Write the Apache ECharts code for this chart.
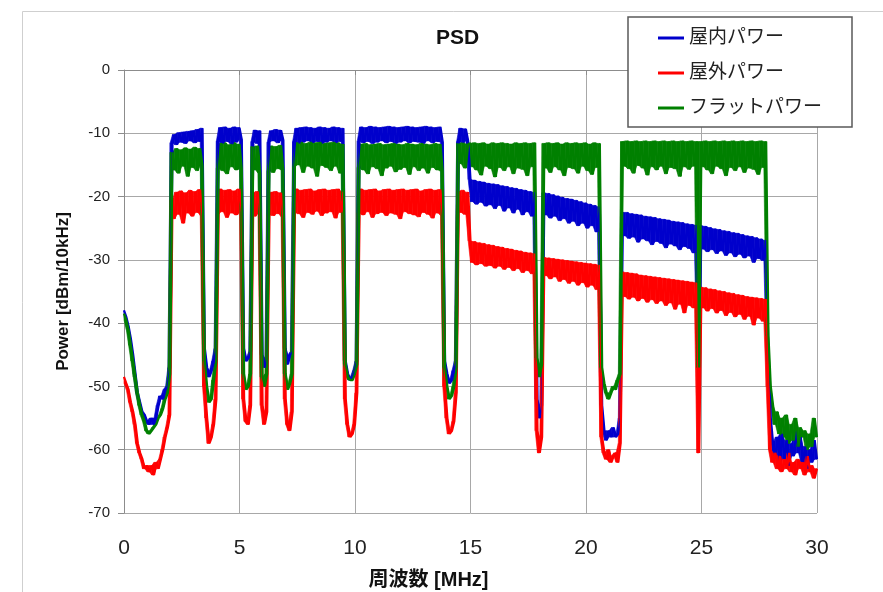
<!DOCTYPE html>
<html><head><meta charset="utf-8">
<script src="https://cdn.jsdelivr.net/npm/echarts@6/dist/echarts.min.js"></script>
<style>html,body{margin:0;padding:0;background:#fff}#c{width:883px;height:592px}</style>
</head><body><div id="c"></div>
<script>
const titleText = 'PSD';
const xAxisName = '周波数 [MHz]';
const yAxisName = 'Power [dBm/10kHz]';
const seriesNames = ['屋内パワー', '屋外パワー', 'フラットパワー'];
const xTicks = [0, 5, 10, 15, 20, 25, 30];
const yTicks = [-70, -60, -50, -40, -30, -20, -10, 0];
// sample frequencies 0.0 .. 30.0 MHz, 0.1 MHz spacing
const freqMHz = Array.from({length: 301}, (_, i) => i / 10);

const indoor = [
 -38,-39,-40.5,-42.5,-45,-48,-51,-52.5,-54,-54.5,-55.5,-56,-55,-56,-55,-53,-51.5,-52,-50.5,-50,-47,
 -11.5,-10.2,-11.8,-9.9,-11.4,-9.8,-11.6,-9.7,-11.2,-9.6,-11.5,-9.4,-11.3,-9.2,
 -44,-47,-48.5,-47.5,-46,-44,
 -11.2,-9.1,-11.6,-9.0,-11.3,-9.2,-11.7,-9.0,-11.4,-9.1,-11.0,
 -44,-46,-45.5,-44.5,
 -11.3,-9.5,-11.6,-9.6,
 -45,-47,-45.5,
 -11.4,-9.6,-11.2,-9.4,-11.5,-9.5,-11.1,
 -44,-46.5,-45,-44.5,
 -11.3,-9.2,-11.6,-9.1,-11.4,-9.0,-11.2,-9.1,-11.5,-9.2,-11.3,-9.0,-11.6,-9.1,-11.4,-9.2,-11.2,-9.0,-11.5,-9.1,-11.3,-9.2,
 -46,-48,-49,-48.5,-47.5,-46,
 -11.2,-9.0,-11.5,-9.1,-11.3,-8.9,-11.6,-9.0,-11.4,-9.1,
 -11.2,-9.0,-11.5,-8.9,-11.3,-9.0,-11.6,-9.1,-11.4,-9.0,
 -11.2,-8.9,-11.5,-9.0,-11.3,-9.1,-11.4,-9.0,-11.6,-8.9,
 -11.2,-9.0,-11.5,-9.1,-11.3,-9.0,-11.4,
 -46,-48,-49.5,-49,-47.5,-46,
 -11.3,-9.2,-11.5,-9.3,-11.2,
 -17.3,-20.8,-17.4,-21.2,-17.6,-20.9,-17.7,-21.5,-17.9,-21.3,
 -18.0,-21.9,-18.1,-21.4,-18.3,-22.3,-18.4,-21.8,-18.6,-22.6,
 -18.7,-22.0,-18.9,-22.9,-19.0,-22.4,-19.2,-23.1,-19.3,
 -52,-55,-53,
 -19.4,-22.9,-19.5,-23.4,-19.7,-23.1,-19.9,-23.8,-20.1,-23.5,
 -20.3,-24.2,-20.4,-23.9,-20.6,-24.6,-20.8,-24.2,-21.0,-25.0,
 -21.2,-24.6,-21.4,-25.6,-21.6,
 -53,-57,-58.5,-57,-58,-56.5,-58,-57.5,-55,
 -22.5,-26.2,-22.5,-26.6,-22.7,-26.4,-22.8,-27.2,-22.9,-26.7,
 -23.1,-27.0,-23.2,-27.6,-23.3,-27.1,-23.5,-27.4,-23.6,-28.1,
 -23.7,-27.5,-23.9,-27.8,-24.0,-28.4,-24.1,-27.9,-24.3,-28.2,
 -24.4,-28.9,-24.5,
 -46,
 -24.6,-28.3,-24.7,-28.7,-24.9,-28.4,-25.1,-29.0,-25.2,-28.6,
 -25.4,-29.3,-25.5,-28.9,-25.7,-29.5,-25.8,-29.1,-26.0,-29.7,
 -26.2,-29.4,-26.3,-30.4,-26.5,-29.8,-26.7,-30.1,-26.9,
 -45,-55,-59,-61,-58,-62,-57.5,-61.5,-58.5,-62.5,-59,-61,-57,-60.5,-58,-62,-59.5,-63,-60,-62,-58.5,-61.5
];

const outdoor = [
 -48.5,-49.5,-50.5,-52.5,-54,-56,-59,-60.5,-61.5,-63,-62.5,-63.5,-62.5,-64,-62,-63,-61.5,-60,-58,-56.5,-54.5,
 -20.5,-23.5,-19.3,-22.8,-19.1,-24.2,-19.4,-22.6,-19.0,-23.1,-19.2,-22.5,-18.9,-23.0,
 -50,-55,-59,-58,-56,-52,
 -22.8,-18.8,-22.4,-19.0,-23.3,-18.9,-22.6,-19.1,-22.9,-18.8,-22.5,
 -52,-55.5,-56,-53,
 -19.4,-23.1,-19.2,-22.7,
 -53,-56,-54,
 -22.9,-19.3,-23.0,-19.2,-22.7,-19.4,-23.2,
 -52,-56,-57,-54,
 -22.4,-18.8,-22.7,-19.0,-23.3,-18.9,-22.5,-18.8,-22.8,-19.1,-22.3,-18.9,-23.0,-18.8,-22.6,-19.0,-22.4,-18.9,-23.4,-18.8,-22.5,-19.2,
 -52,-56,-58,-57.5,-56,-51,
 -22.6,-18.8,-22.9,-19.0,-22.4,-18.9,-23.3,-18.8,-22.7,-19.1,
 -22.5,-18.9,-23.0,-18.8,-22.6,-19.0,-22.8,-18.9,-23.5,-18.8,
 -22.4,-19.0,-22.7,-18.9,-22.9,-18.8,-23.2,-19.1,-22.5,-18.9,
 -22.8,-18.8,-23.4,-19.0,-22.6,-18.9,-23.0,
 -50,-55,-57.5,-57,-55.5,-51,
 -19.2,-22.5,-19.0,-22.8,-19.3,
 -27.0,-30.4,-27.1,-30.8,-27.3,-30.6,-27.4,-31.0,-27.6,-30.9,
 -27.7,-31.3,-27.9,-31.0,-28.0,-31.5,-28.2,-31.2,-28.3,-31.7,
 -28.5,-31.4,-28.6,-32.0,-28.8,-31.7,-28.9,-32.2,-29.0,
 -57,-60.5,-58,
 -29.6,-32.5,-29.7,-33.0,-29.8,-32.7,-29.9,-33.4,-30.0,-33.1,
 -30.1,-33.7,-30.2,-33.4,-30.3,-34.0,-30.4,-33.6,-30.5,-34.3,
 -30.6,-34.0,-30.7,-34.7,-30.8,
 -58,-60.5,-61.5,-60,-62,-61,-60.5,-62,-59,
 -31.9,-35.8,-32.0,-36.2,-32.1,-35.9,-32.2,-36.5,-32.4,-36.1,
 -32.5,-36.7,-32.6,-36.3,-32.7,-36.9,-32.8,-36.5,-32.9,-37.2,
 -33.0,-36.8,-33.1,-37.8,-33.2,-37.0,-33.3,-38.4,-33.4,-37.2,
 -33.5,-37.6,-33.6,
 -60.5,
 -34.3,-37.6,-34.4,-38.1,-34.6,-37.7,-34.7,-38.4,-34.9,-38.0,
 -35.0,-38.8,-35.2,-38.3,-35.3,-39.0,-35.5,-38.6,-35.6,-39.4,
 -35.8,-38.9,-35.9,-40.3,-36.0,-39.2,-36.1,-39.7,-36.2,
 -50,-60,-62,-60.5,-63,-61,-63.5,-61.5,-63,-60.5,-63.5,-62,-64,-61.5,-63,-62,-64,-61,-63.5,-62.5,-64.5,-63
];

const flat = [
 -38.5,-39.5,-41,-43.5,-46,-48.5,-51,-53,-54.5,-55.5,-57,-57.5,-57,-56.5,-56,-55,-54.5,-53.5,-52,-51,-48,
 -13,-15.8,-12.4,-16.3,-12.6,-15.2,-12.3,-16.8,-12.5,-15.4,-12.2,-15.9,-12.4,-15.1,
 -46,-50,-52.5,-52,-49,-46,
 -15.5,-11.6,-15.9,-11.5,-16.4,-11.8,-15.3,-11.5,-15.8,-11.7,-15.6,
 -48,-50.5,-50,-48,
 -12.1,-15.8,-12.0,-16.3,
 -48.5,-50,-48,
 -15.9,-12.0,-16.2,-12.1,-15.6,-11.9,-15.8,
 -48,-50.5,-49.5,-48,
 -15.3,-11.5,-15.0,-11.4,-16.2,-11.6,-15.2,-11.4,-15.5,-11.5,-16.8,-11.4,-15.1,-11.6,-15.4,-11.5,-15.9,-11.4,-15.2,-11.5,-16.3,-11.7,
 -46.5,-48.5,-49,-49,-48,-46.5,
 -15.4,-11.7,-15.8,-11.6,-16.4,-11.8,-15.3,-11.7,-15.6,-11.6,
 -16.7,-11.8,-15.5,-11.7,-15.2,-11.6,-16.1,-11.7,-15.7,-11.8,
 -15.4,-11.6,-16.5,-11.7,-15.3,-11.8,-15.9,-11.6,-15.5,-11.7,
 -16.3,-11.8,-15.4,-11.6,-15.8,-11.7,-16.0,
 -47,-50,-52,-51.5,-50,-47,
 -11.6,-14.8,-11.5,-15.5,-11.7,
 -11.6,-15.3,-11.5,-15.8,-11.6,-16.6,-11.5,-15.2,-11.7,-15.6,
 -11.5,-16.9,-11.6,-15.4,-11.5,-15.9,-11.6,-15.3,-11.7,-16.4,
 -11.5,-15.5,-11.6,-15.7,-11.5,-16.7,-11.6,-15.3,-11.5,
 -45.5,-48.5,-46.5,
 -11.6,-15.5,-11.5,-16.2,-11.6,-15.3,-11.5,-15.8,-11.7,-16.7,
 -11.5,-15.4,-11.6,-15.6,-11.5,-16.3,-11.6,-15.2,-11.5,-15.9,
 -11.7,-16.5,-11.5,-15.4,-11.6,
 -47,-49.5,-51,-52,-51,-50,-50.5,-49,-48,
 -11.3,-15.2,-11.2,-15.6,-11.3,-16.3,-11.2,-15.1,-11.3,-15.5,
 -11.2,-16.6,-11.3,-15.3,-11.2,-15.8,-11.3,-15.2,-11.2,-16.4,
 -11.3,-15.4,-11.2,-15.6,-11.3,-16.8,-11.2,-15.3,-11.3,-15.7,
 -11.2,-15.2,-11.3,
 -47,
 -11.3,-15.3,-11.2,-15.8,-11.3,-16.4,-11.2,-15.2,-11.3,-15.6,
 -11.2,-16.7,-11.3,-15.4,-11.2,-15.9,-11.3,-15.3,-11.2,-16.2,
 -11.3,-15.5,-11.2,-15.7,-11.3,-16.5,-11.2,-15.4,-11.3,
 -42,-50,-53,-56,-54,-57.5,-55,-58,-54.5,-59,-56,-58.5,-55,-59.5,-56.5,-58,-57,-60,-57.5,-59.5,-55,-58
];

const seriesColors = ['#0000CC', '#FF0000', '#008000'];
const FONT = "'Liberation Sans', 'Noto Sans CJK JP', sans-serif";

const chart = echarts.init(document.getElementById('c'), null, {renderer: 'canvas'});
const allSeries = [indoor, outdoor, flat];

// Noise band: the area swept by the trace between neighbouring samples,
// drawn as quads through the chart's own coordinate system.
function bandSeries(vals, k) {
  const n = vals.length;
  const lo = vals.map((v, i) => Math.min(v, i + 1 < n ? vals[i + 1] : v));
  const hi = vals.map((v, i) => Math.max(v, i + 1 < n ? vals[i + 1] : v));
  const data = [];
  for (let i = 0; i < n - 1; i++) {
    data.push([freqMHz[i], lo[i], hi[i], freqMHz[i + 1], lo[i + 1], hi[i + 1]]);
  }
  return {
    name: '_band' + k, type: 'custom', silent: true, data: data,
    encode: {x: [0, 3], y: [1, 2, 4, 5]},
    renderItem: (params, api) => {
      const p1 = api.coord([api.value(0), api.value(2)]);
      const p2 = api.coord([api.value(3), api.value(5)]);
      const p3 = api.coord([api.value(3), api.value(4)]);
      const p4 = api.coord([api.value(0), api.value(1)]);
      return {type: 'polygon', shape: {points: [p1, p2, p3, p4]},
        style: {fill: seriesColors[k], stroke: seriesColors[k], lineWidth: 0.6}};
    }
  };
}

const series = [];
allSeries.forEach((vals, k) => {
  series.push(bandSeries(vals, k));
  series.push({
    name: seriesNames[k], type: 'line', data: freqMHz.map((f, i) => [f, vals[i]]),
    symbol: 'none', showSymbol: false, sampling: null,
    lineStyle: {color: seriesColors[k], width: 2.2},
    itemStyle: {color: seriesColors[k]},
    emphasis: {disabled: true}
  });
});

chart.setOption({
  animation: false,
  backgroundColor: '#fff',
  textStyle: {fontFamily: FONT},
  title: {
    text: titleText, left: 431, top: 23,
    textStyle: {fontSize: 21, fontWeight: 'bold', color: '#111', fontFamily: FONT}
  },
  graphic: [{
    type: 'rect', left: 20, top: 9, z: -10,
    shape: {width: 900, height: 620},
    style: {fill: 'none', stroke: '#cfcfcf', lineWidth: 1}
  }],
  legend: {
    orient: 'vertical', left: 628, top: 17,
    padding: [11, 30, 9, 30], itemGap: 15, itemWidth: 26, itemHeight: 3, icon: 'rect',
    backgroundColor: '#fff', borderColor: '#5a5a5a', borderWidth: 1.5,
    textStyle: {fontSize: 19, lineHeight: 20, color: '#222', fontFamily: FONT},
    data: seriesNames
  },
  grid: {left: 124, right: 66, top: 70, bottom: 79, outerBoundsMode: 'none', containLabel: false},
  xAxis: {
    type: 'value', min: xTicks[0], max: xTicks[xTicks.length - 1], interval: 5,
    name: xAxisName, nameLocation: 'middle', nameGap: 57,
    nameTextStyle: {fontSize: 20, fontWeight: 'bold', color: '#111', fontFamily: FONT, padding: [0, 84, 0, 0]},
    axisLine: {show: true, lineStyle: {color: '#8c8c8c', width: 1}},
    axisTick: {show: true, inside: false, length: 5, lineStyle: {color: '#8c8c8c'}},
    axisLabel: {fontSize: 21, color: '#222', margin: 25, fontFamily: FONT},
    splitLine: {show: true, lineStyle: {color: '#a8a8a8', width: 1}}
  },
  yAxis: {
    type: 'value', min: yTicks[0], max: yTicks[yTicks.length - 1], interval: 10,
    name: yAxisName, nameLocation: 'middle', nameGap: 52, nameRotate: 90,
    nameTextStyle: {fontSize: 17, fontWeight: 'bold', color: '#111', fontFamily: FONT},
    axisLine: {show: true, lineStyle: {color: '#8c8c8c', width: 1}},
    axisTick: {show: true, inside: false, length: 6, lineStyle: {color: '#8c8c8c'}},
    axisLabel: {fontSize: 15, color: '#222', margin: 14, fontFamily: FONT},
    splitLine: {show: true, lineStyle: {color: '#a8a8a8', width: 1}}
  },
  series: series
});
</script>
</body></html>
